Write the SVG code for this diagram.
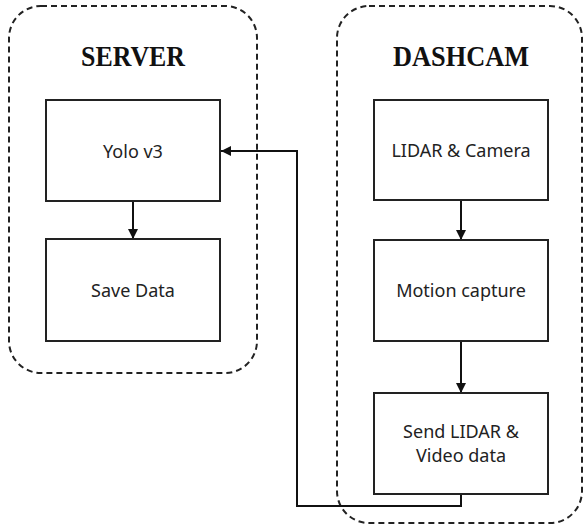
<svg xmlns="http://www.w3.org/2000/svg" width="584" height="528" viewBox="0 0 584 528">
  <style>
    .zone { fill: none; stroke: #222; stroke-width: 2; stroke-dasharray: 6 4; }
    .box { fill: #fff; stroke: #222; stroke-width: 2; }
    .title { font-family: "Liberation Serif", "Times New Roman", serif; font-weight: bold; font-size: 30px; fill: #111; text-anchor: middle; }
    .label { font-family: "Noto Sans", "Open Sans", sans-serif; font-size: 18px; fill: #222; text-anchor: middle; }
    .link { fill: none; stroke: #111; stroke-width: 2; }
  </style>
  <defs>
    <marker id="arrow" viewBox="0 0 10 10" refX="10" refY="5" markerWidth="5" markerHeight="5" markerUnits="strokeWidth" orient="auto">
      <path d="M0,0 L10,5 L0,10 Z" fill="#111"/>
    </marker>
  </defs>

  <rect width="584" height="528" fill="#fff"/>

  <!-- Server zone -->
  <g id="server">
    <rect class="zone" x="9" y="6" width="248" height="367" rx="32" ry="32"/>
    <text class="title" x="133" y="66" textLength="104" lengthAdjust="spacingAndGlyphs">SERVER</text>
  </g>

  <!-- Dashcam zone -->
  <g id="dashcam">
    <rect class="zone" x="337" y="6" width="245" height="517" rx="32" ry="32"/>
    <text class="title" x="461" y="66" textLength="136" lengthAdjust="spacingAndGlyphs">DASHCAM</text>
  </g>

  <!-- Connectors -->
  <g id="connectors">
    <line class="link" x1="133" y1="201" x2="133" y2="239" marker-end="url(#arrow)"/>
    <line class="link" x1="461" y1="200" x2="461" y2="240" marker-end="url(#arrow)"/>
    <line class="link" x1="461" y1="341" x2="461" y2="393" marker-end="url(#arrow)"/>
    <polyline class="link" points="461,494 461,506 297,506 297,151 221,151" marker-end="url(#arrow)"/>
  </g>

  <g id="yolo">
    <rect class="box" x="46" y="100" width="174" height="101"/>
    <text class="label" x="133" y="158">Yolo v3</text>
  </g>

  <g id="save-data">
    <rect class="box" x="46" y="239" width="174" height="102"/>
    <text class="label" x="133" y="297">Save Data</text>
  </g>

  <g id="lidar-camera">
    <rect class="box" x="374" y="100" width="174" height="100"/>
    <text class="label" x="461" y="157">LIDAR &amp; Camera</text>
  </g>

  <g id="motion-capture">
    <rect class="box" x="374" y="240" width="174" height="101"/>
    <text class="label" x="461" y="297">Motion capture</text>
  </g>

  <g id="send-data">
    <rect class="box" x="374" y="393" width="174" height="101"/>
    <text class="label" x="461" y="438">Send LIDAR &amp;</text>
    <text class="label" x="461" y="462">Video data</text>
  </g>
</svg>
